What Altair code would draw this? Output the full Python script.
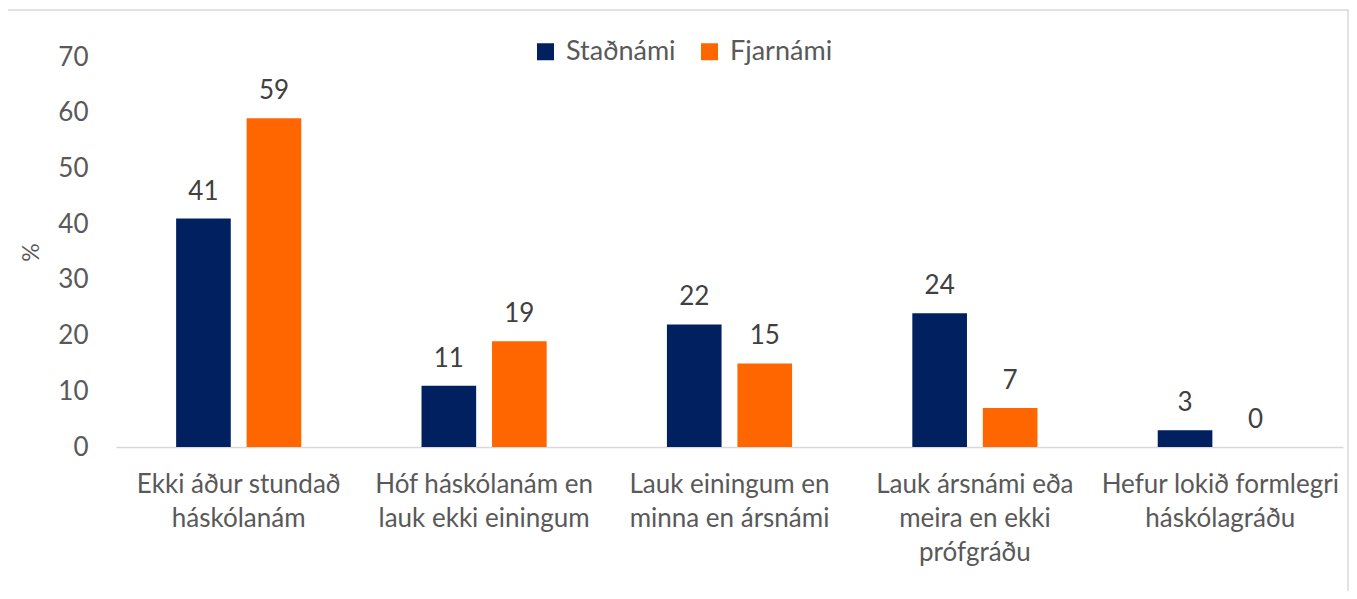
import altair as alt
import pandas as pd

categories = [
    "Ekki áður stundað|háskólanám",
    "Hóf háskólanám en|lauk ekki einingum",
    "Lauk einingum en|minna en ársnámi",
    "Lauk ársnámi eða|meira en ekki|prófgráðu",
    "Hefur lokið formlegri|háskólagráðu",
]
series = ["Staðnámi", "Fjarnámi"]
stadnami = [41, 11, 22, 24, 3]
fjarnami = [59, 19, 15, 7, 0]
colors = ["#002060", "#FF6600"]
y_ticks = [0, 10, 20, 30, 40, 50, 60, 70]

rows = []
for c, a, b in zip(categories, stadnami, fjarnami):
    rows.append({"cat": c, "series": series[0], "value": a})
    rows.append({"cat": c, "series": series[1], "value": b})
df = pd.DataFrame(rows)

FONT = "Lato"
GRAY = "#595959"

x = alt.X(
    "cat:N", sort=categories, title=None,
    scale=alt.Scale(paddingInner=0.49, paddingOuter=0.245),
    axis=alt.Axis(
        labelExpr="split(datum.label, '|')", labelAngle=0, labelFontSize=26,
        labelColor=GRAY, labelLineHeight=34, labelPadding=24, ticks=False,
        domainColor="#d9d9d9", domainWidth=1.5, labelFont=FONT, labelLimit=400,
    ),
)
xo = alt.XOffset("series:N", sort=series, scale=alt.Scale(paddingInner=0.225, paddingOuter=0))
y = alt.Y(
    "value:Q", scale=alt.Scale(domain=[0, 70]),
    axis=alt.Axis(
        values=y_ticks, grid=False, domain=False, ticks=False, labelFontSize=26,
        labelColor=GRAY, labelPadding=28, labelFont=FONT, title="%",
        titleFontSize=23, titleColor=GRAY, titleFontWeight="normal", titleFont=FONT,
        titlePadding=14,
    ),
)
color = alt.Color(
    "series:N", sort=series, scale=alt.Scale(domain=series, range=colors),
    legend=alt.Legend(
        orient="none", legendX=416, legendY=-19, direction="horizontal", title=None,
        symbolType="square", symbolSize=289, labelFontSize=27, labelColor=GRAY,
        labelFont=FONT, columnPadding=20, labelOffset=7, symbolStrokeWidth=0, padding=0,
    ),
)

base = alt.Chart(df)
bars = base.mark_bar().encode(x=x, xOffset=xo, y=y, color=color)
labels = base.mark_text(dy=-19, baseline="alphabetic", fontSize=26, color="#404040", font=FONT).encode(
    x=x, xOffset=xo, y=y, text="value:Q"
)
frame = alt.Chart(pd.DataFrame({"a": [0]})).mark_rect(
    fill="transparent", stroke="#d9d9d9", strokeWidth=1.5
).encode(x=alt.value(-109), x2=alt.value(1232), y=alt.value(-47), y2=alt.value(560))

chart = alt.layer(frame, bars, labels).properties(
    width=1227, height=390,
    autosize=alt.AutoSizeParams(type="none"),
    padding={"left": 108, "top": 49, "right": 6, "bottom": 144},
).configure(font=FONT).configure_view(stroke=None)

chart.save("out.html", embed_options={"renderer": "svg", "actions": False})
